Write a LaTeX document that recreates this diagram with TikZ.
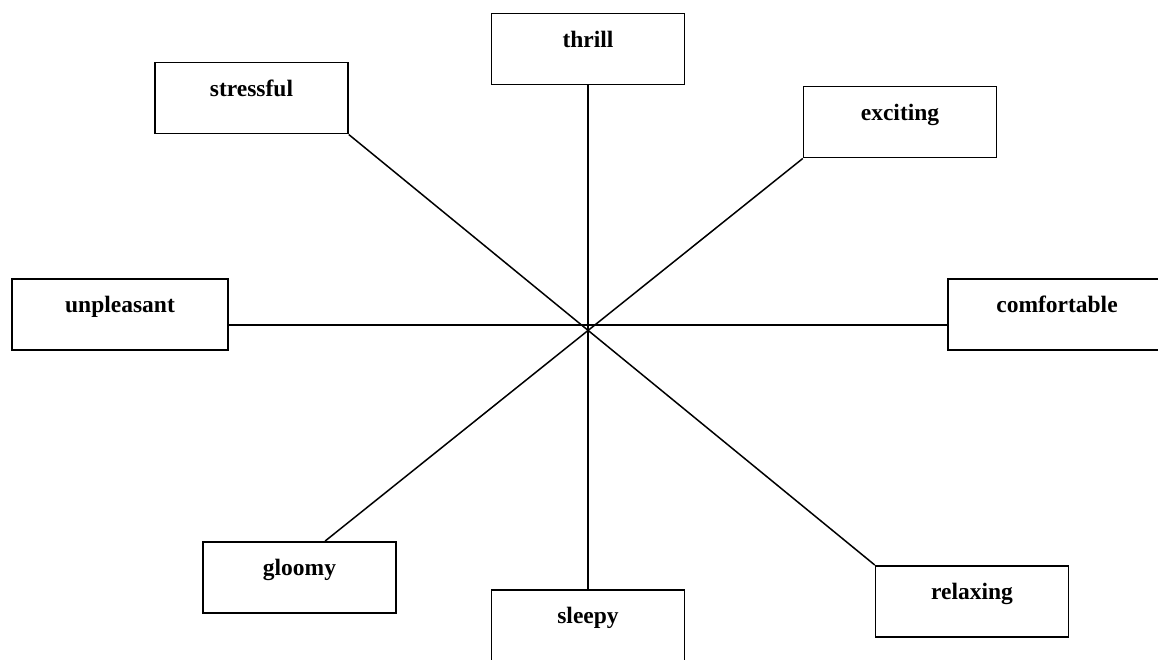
\documentclass[tikz,border=0pt]{standalone}
\usepackage{fontspec}
\setmainfont{Liberation Serif}
\usetikzlibrary{calc}
\begin{document}
\begin{tikzpicture}[x=1pt,y=-1pt,
  word/.style={draw=black, line width=1.5pt, fill=white, anchor=north,
    inner xsep=0pt, inner ysep=0pt, text height=33.5pt, text depth=37.5pt,
    minimum width=193pt, font=\fontsize{23.5}{24}\selectfont\bfseries},
  spoke/.style={draw=black, line width=1.5pt}]
\useasboundingbox[fill=white] (0,0) rectangle (1158,660);
\coordinate (c) at (588,325);
% emotion labels placed around the centre
\node[word] (thrill)      at (588,13)   {thrill};
\node[word] (stressful)   at (251.5,62) {stressful};
\node[word] (exciting)    at (900,86)   {exciting};
\node[word, minimum width=216pt] (unpleasant)  at (120,278)  {unpleasant};
\node[word, minimum width=218pt] (comfortable) at (1057,278) {comfortable};
\node[word] (gloomy)      at (299.5,541) {gloomy};
\node[word, text depth=40pt] (sleepy) at (588,589) {sleepy};
\node[word] (relaxing)    at (972,565)  {relaxing};
% spokes through the centre
\draw[spoke] (thrill.south) -- (sleepy.north);
\draw[spoke] (unpleasant.east |- c) -- (comfortable.west |- c);
\draw[spoke] (stressful.south east) -- (relaxing.north west);
\draw[spoke] (exciting.south west) -- ($(gloomy.north west)!0.632!(gloomy.north east)$);
\end{tikzpicture}
\end{document}
